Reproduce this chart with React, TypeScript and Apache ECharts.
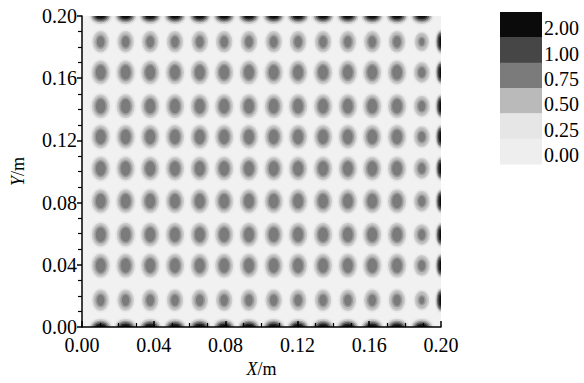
import React, { useEffect, useRef } from 'react';
import * as echarts from 'echarts';

// ---- data ----
const tickLabels = ['0.00', '0.04', '0.08', '0.12', '0.16', '0.20'];
// centres of the blob columns (X, m)
const colX = [0.0104, 0.0243, 0.038, 0.0518, 0.0656, 0.0792, 0.093, 0.1068, 0.1204, 0.1343, 0.1481, 0.1617, 0.1755, 0.1893];
// centres of the blob rows (Y, m)
const rowY = [0.0172, 0.0395, 0.0594, 0.0809, 0.1019, 0.1223, 0.142, 0.1637, 0.1834];
// relative peak of the blobs in each row / column
const rowPeak = [0.82, 0.9, 0.9, 0.9, 0.9, 0.9, 0.9, 0.9, 0.82];
const colPeak = [0.9, 0.9, 0.9, 0.9, 0.9, 0.9, 0.9, 0.9, 0.9, 0.9, 0.9, 0.9, 0.9, 0.8];
const interiorPeak = 0.9;
// peak value of the half blobs on the top, bottom and right edges
const edgePeak = 2.0;
const edgeTopY = 0.2;
const edgeBottomY = 0.0;
const edgeRightX = 0.2;
// legend
const legendLabels = ['2.00', '1.00', '0.75', '0.50', '0.25', '0.00'];
const legendValues = [2.0, 1.0, 0.75, 0.5, 0.25, 0.0];
const legendColors = ['#0b0b0b', '#464646', '#7b7b7b', '#bababa', '#e6e6e6', '#eeeeee'];

const FONT = 'Liberation Serif';

function colorFor(level: number): string {
  const i = legendValues.indexOf(level);
  return legendColors[i];
}

// ring radii [level, rx, ry] in px, by blob kind (styling only)
const ringSizes: Record<number, Array<[number, number, number]>> = {
  0: [
    [0.25, 10.0, 13.0],
    [0.5, 8.3, 11.1],
    [0.75, 5.6, 7.9],
  ],
  1: [
    [0.25, 11.5, 9],
    [0.5, 9.8, 7.2],
    [0.75, 8.2, 5.6],
    [1.0, 6.4, 4.0],
    [2.0, 4.4, 2.4],
  ],
  2: [
    [0.25, 5.8, 12.5],
    [0.5, 4.8, 11],
    [0.75, 3.8, 9.5],
    [1.0, 3.0, 8],
    [2.0, 1.8, 5.5],
  ],
};

const strokeFor: Record<string, string> = {
  '0.25': '#eaeaea',
  '0.5': '#cdcdcd',
  '0.75': '#9a9a9a',
  '1': '#606060',
  '2': '#262626',
};

function buildBlobs() {
  const out: number[][] = [];
  rowY.forEach((y, r) => {
    colX.forEach((x, c) => {
      out.push([x, y, (rowPeak[r] * colPeak[c]) / interiorPeak, 0]);
    });
  });
  colX.forEach((x) => {
    out.push([x, edgeTopY, edgePeak, 1]);
    out.push([x, edgeBottomY, edgePeak, 1]);
  });
  rowY.forEach((y) => {
    out.push([edgeRightX, y, edgePeak, 2]);
  });
  return out;
}

export default function App() {
  const ref = useRef<HTMLDivElement>(null);

  useEffect(() => {
    if (!ref.current) return;
    const chart = echarts.init(ref.current, undefined, { renderer: 'svg' });

    const axisCommon = {
      type: 'value' as const,
      min: 0,
      max: 0.2,
      interval: 0.04,
      z: 10,
      splitLine: { show: false },
      axisLine: { show: true, lineStyle: { color: '#000', width: 1.5 } },
      axisLabel: {
        color: '#000',
        fontFamily: FONT,
        fontSize: 20,
        formatter: (v: number) => tickLabels[Math.round(v / 0.04)],
      },
      nameLocation: 'middle' as const,
      nameTextStyle: {
        color: '#000',
        fontFamily: FONT,
        fontSize: 18,
        rich: {
          i: { fontStyle: 'italic', fontFamily: FONT, fontSize: 18, color: '#000' },
          n: { fontFamily: FONT, fontSize: 18, color: '#000' },
        },
      },
    };

    const graphics: any[] = [];
    legendLabels.forEach((lab, i) => {
      const h = 152 / legendLabels.length;
      graphics.push({
        type: 'rect',
        x: 500,
        y: 12 + i * h,
        shape: { x: 0, y: 0, width: 42, height: h + 0.5 },
        style: { fill: legendColors[i] },
      });
      graphics.push({
        type: 'text',
        x: 544,
        y: 12 + i * h + h / 2 + 3.5,
        style: {
          text: lab,
          fill: '#000',
          fontFamily: FONT,
          fontSize: 20,
          align: 'left',
          verticalAlign: 'middle',
        },
      });
    });

    chart.setOption({
      animation: false,
      backgroundColor: '#ffffff',
      grid: {
        left: 82,
        right: 143,
        top: 16,
        bottom: 53,
        show: true,
        backgroundColor: '#f1f1f1',
        borderWidth: 0,
      },
      xAxis: {
        ...axisCommon,
        name: '{i|X}{n|/m}',
        nameGap: 33,
        axisLabel: { ...axisCommon.axisLabel, margin: 8 },
        axisTick: { show: true, inside: true, length: 6, lineStyle: { color: '#000', width: 1.5 } },
        minorTick: { show: true, splitNumber: 4, length: 4, lineStyle: { color: '#000', width: 1.2 } },
      },
      yAxis: {
        ...axisCommon,
        name: '{i|Y}{n|/m}',
        nameGap: 55,
        axisLabel: { ...axisCommon.axisLabel, margin: 5 },
        axisTick: { show: true, inside: false, length: 5, lineStyle: { color: '#000', width: 1.5 } },
        minorTick: { show: true, splitNumber: 4, length: 4, lineStyle: { color: '#000', width: 1.2 } },
      },
      graphic: graphics,
      series: [
        {
          type: 'custom',
          coordinateSystem: 'cartesian2d',
          clip: true,
          encode: { x: 0, y: 1 },
          data: buildBlobs(),
          renderItem: (params: any, api: any) => {
            const x = api.value(0);
            const y = api.value(1);
            const peak = api.value(2);
            const kind = api.value(3);
            const c = api.coord([x, y]);
            const coreScale = kind === 0 ? Math.max(0.5, Math.min(1, (peak - 0.5) / 0.4)) : 1;
            const haloScale = (1 + coreScale) / 2;
            const children: any[] = [];
            ringSizes[kind].forEach(([lvl, rx, ry]) => {
              const isCore = kind === 0 && lvl === 0.75;
              const s = isCore ? coreScale : haloScale;
              children.push({
                type: 'ellipse',
                shape: { cx: c[0], cy: c[1], rx: rx * s, ry: ry * s },
                style: {
                  fill: colorFor(lvl),
                  stroke: strokeFor[String(lvl)],
                  lineWidth: 1.5,
                },
              });
            });
            return { type: 'group', children };
          },
        },
      ],
    });

    return () => chart.dispose();
  }, []);

  return (
    <div
      ref={ref}
      style={{ position: 'fixed', left: 0, top: 0, width: 584, height: 383, background: '#fff' }}
    />
  );
}
